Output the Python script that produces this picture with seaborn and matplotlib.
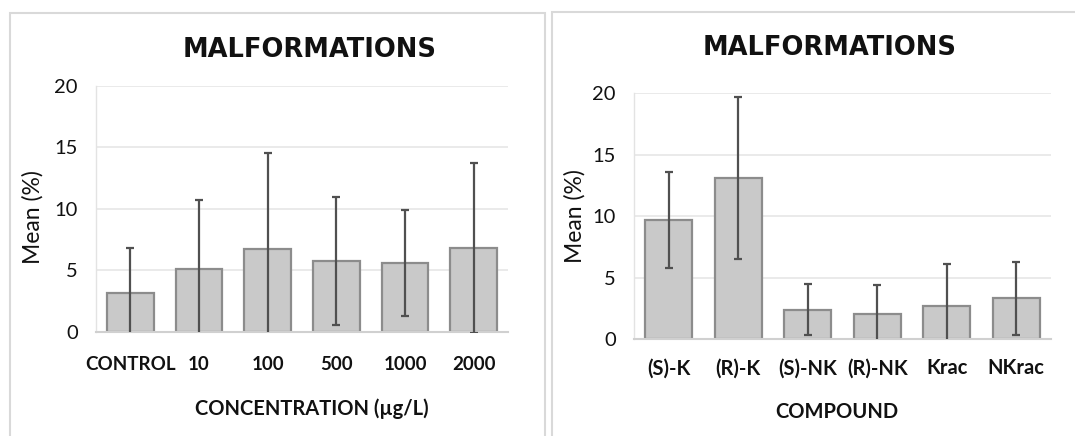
import numpy as np
import pandas as pd
import matplotlib
matplotlib.use("Agg")
import matplotlib.pyplot as plt
import seaborn as sns
from matplotlib.patches import Rectangle

# ---- data ----
conc_labels = ["CONTROL", "10", "100", "500", "1000", "2000"]
conc_mean = [3.2, 5.1, 6.7, 5.8, 5.6, 6.8]
conc_sd = [3.6, 5.6, 7.8, 5.2, 4.3, 6.9]

comp_labels = ["(S)-K", "(R)-K", "(S)-NK", "(R)-NK", "Krac", "NKrac"]
comp_mean = [9.7, 13.1, 2.4, 2.0, 2.7, 3.3]
comp_sd = [3.9, 6.6, 2.1, 2.4, 3.4, 3.0]

y_ticks = [0, 5, 10, 15, 20]

sns.set_theme(style="white")
plt.rcParams["font.family"] = ["Lato", "DejaVu Sans"]

W, H = 1075, 436
fig = plt.figure(figsize=(W / 100, H / 100), dpi=100)
fig.patch.set_facecolor("white")

BAR_FILL = "#c9c9c9"
BAR_EDGE = "#8c8c8c"
ERR = "#505050"
GRID = "#e6e6e6"
TXT = "#111111"

def px_rect(x0, y0, x1, y1):
    return [x0 / W, 1 - y1 / H, (x1 - x0) / W, (y1 - y0) / H]

# panel frames
for (x0, y0, x1, y1) in [(9.5, 13, 545, 440), (552, 12, 1080, 440)]:
    fig.patches.append(Rectangle((x0 / W, 1 - y1 / H), (x1 - x0) / W, (y1 - y0) / H,
                                 transform=fig.transFigure, fill=False,
                                 edgecolor="#d9d9d9", linewidth=1.5, zorder=0))

def panel(rect, labels, means, sds):
    ax = fig.add_axes(rect)
    df = pd.DataFrame({"cat": labels, "val": means})
    sns.barplot(data=df, x="cat", y="val", ax=ax, color=BAR_FILL, width=0.68,
                edgecolor=BAR_EDGE, linewidth=1.6, saturation=1, errorbar=None, zorder=2)
    ax.errorbar(np.arange(len(labels)), means, yerr=sds, fmt="none", ecolor=ERR,
                elinewidth=1.6, capsize=3.2, capthick=1.6, zorder=3, clip_on=True)
    ax.set_ylim(0, 20)
    ax.set_xlim(-0.5, len(labels) - 0.5)
    ax.set_yticks(y_ticks)
    ax.yaxis.grid(True, color=GRID, linewidth=1.2, zorder=0)
    ax.set_axisbelow(True)
    for s in ["top", "right"]:
        ax.spines[s].set_visible(False)
    ax.spines["left"].set_color("#e3e3e3")
    ax.spines["left"].set_linewidth(1.0)
    ax.spines["bottom"].set_color("#d0d0d0")
    ax.spines["bottom"].set_linewidth(1.5)
    ax.tick_params(axis="both", length=0)
    ax.tick_params(axis="y", labelsize=14.5, pad=13, labelcolor=TXT)
    ax.set_xlabel("")
    ax.set_ylabel("")
    ax.set_facecolor("white")
    return ax

TITLE_FONT = ["DejaVu Sans"]

# left panel
axL = panel(px_rect(96, 85.7, 508, 332), conc_labels, conc_mean, conc_sd)
axL.tick_params(axis="x", labelsize=13.5, pad=17, labelcolor=TXT)
for t in axL.get_xticklabels():
    t.set_fontweight("bold")
fig.text(310 / W, 1 - 50 / H, "MALFORMATIONS", ha="center", va="center",
         fontsize=18.5, fontweight="bold", family=TITLE_FONT, color=TXT)
fig.text(312 / W, 1 - 409 / H, "CONCENTRATION (µg/L)", ha="center", va="center",
         fontsize=14.5, fontweight="bold", color=TXT)
fig.text(33 / W, 1 - 217 / H, "Mean (%)", ha="center", va="center", rotation=90,
         fontsize=16.5, color=TXT)

# right panel
axR = panel(px_rect(634, 93.3, 1051, 339), comp_labels, comp_mean, comp_sd)
axR.tick_params(axis="x", labelsize=14.5, pad=14, labelcolor=TXT)
for t in axR.get_xticklabels():
    t.set_fontweight("bold")
fig.text(830 / W, 1 - 48 / H, "MALFORMATIONS", ha="center", va="center",
         fontsize=18.5, fontweight="bold", family=TITLE_FONT, color=TXT)
fig.text(837 / W, 1 - 412 / H, "COMPOUND", ha="center", va="center",
         fontsize=14.5, fontweight="bold", color=TXT)
fig.text(575 / W, 1 - 216 / H, "Mean (%)", ha="center", va="center", rotation=90,
         fontsize=16.5, color=TXT)

fig.savefig("out.png", dpi=100, facecolor="white")
